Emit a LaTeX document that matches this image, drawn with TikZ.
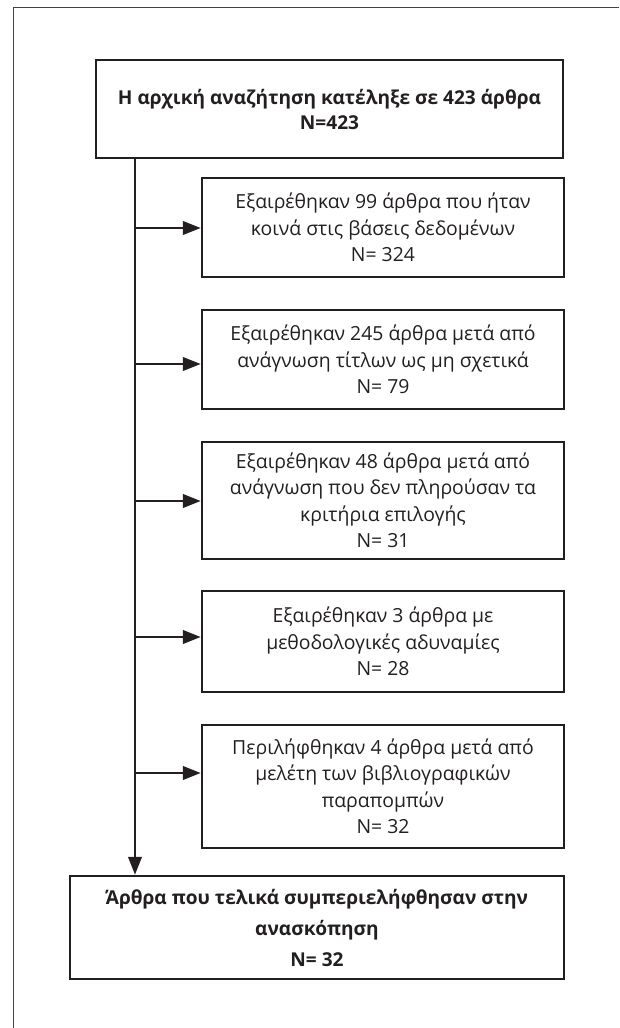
\documentclass[tikz,border=0pt]{standalone}
\usepackage{fontspec}
\setmainfont{Open Sans}
\usetikzlibrary{arrows.meta}
\definecolor{ink}{HTML}{231F20}
\definecolor{framecol}{HTML}{444444}
\begin{document}
\begin{tikzpicture}[x=1pt,y=1pt,
  box/.style={draw=ink, line width=2.5pt, align=center, text=ink, inner sep=0pt,
    font=\fontsize{19.4}{26.5}\selectfont},
  boldbox/.style={box, font=\fontsize{19.1}{25}\selectfont\bfseries},
  finalbox/.style={box, font=\fontsize{19.1}{31}\selectfont\bfseries},
  conn/.style={draw=ink, line width=2.5pt},
  arr/.style={conn, -{Triangle[length=18pt,width=13.5pt]}}]
\useasboundingbox (0,0) rectangle (619,-1028);
\draw[framecol, line width=1pt] (13,-1028) -- (13,-7) -- (619,-7);

\node[boldbox, minimum width=467, minimum height=98] (top) at (329.5,-109)
  {Η αρχική αναζήτηση κατέληξε σε 423 άρθρα\\N=423};
\node[box, minimum width=362, minimum height=99] (b1) at (383,-227.5)
  {Εξαιρέθηκαν 99 άρθρα που ήταν\\κοινά στις βάσεις δεδομένων\\N= 324};
\node[box, minimum width=362, minimum height=99] (b2) at (383,-359.5)
  {Εξαιρέθηκαν 245 άρθρα μετά από\\ανάγνωση τίτλων ως μη σχετικά\\N= 79};
\node[box, minimum width=362, minimum height=117] (b3) at (383,-500.5)
  {Εξαιρέθηκαν 48 άρθρα μετά από\\ανάγνωση που δεν πληρούσαν τα\\κριτήρια επιλογής\\N= 31};
\node[box, minimum width=362, minimum height=101] (b4) at (383,-641.5)
  {Εξαιρέθηκαν 3 άρθρα με\\μεθοδολογικές αδυναμίες\\N= 28};
\node[box, minimum width=362, minimum height=123] (b5) at (383,-786.5)
  {Περιλήφθηκαν 4 άρθρα μετά από\\μελέτη των βιβλιογραφικών\\παραπομπών\\N= 32};
\node[finalbox, minimum width=494, minimum height=103] (final) at (317,-927.5)
  {Άρθρα που τελικά συμπεριελήφθησαν στην\\ανασκόπηση\\N= 32};

\coordinate (trunk) at (135,0);
\draw[arr] (top.south -| trunk) -- (final.north -| trunk);
\coordinate (a1) at (135,-228);
\coordinate (a2) at (135,-364);
\coordinate (a3) at (135,-501);
\coordinate (a4) at (135,-637);
\coordinate (a5) at (135,-773);
\draw[arr] (a1) -- (a1 -| b1.west);
\draw[arr] (a2) -- (a2 -| b2.west);
\draw[arr] (a3) -- (a3 -| b3.west);
\draw[arr] (a4) -- (a4 -| b4.west);
\draw[arr] (a5) -- (a5 -| b5.west);
\end{tikzpicture}
\end{document}
